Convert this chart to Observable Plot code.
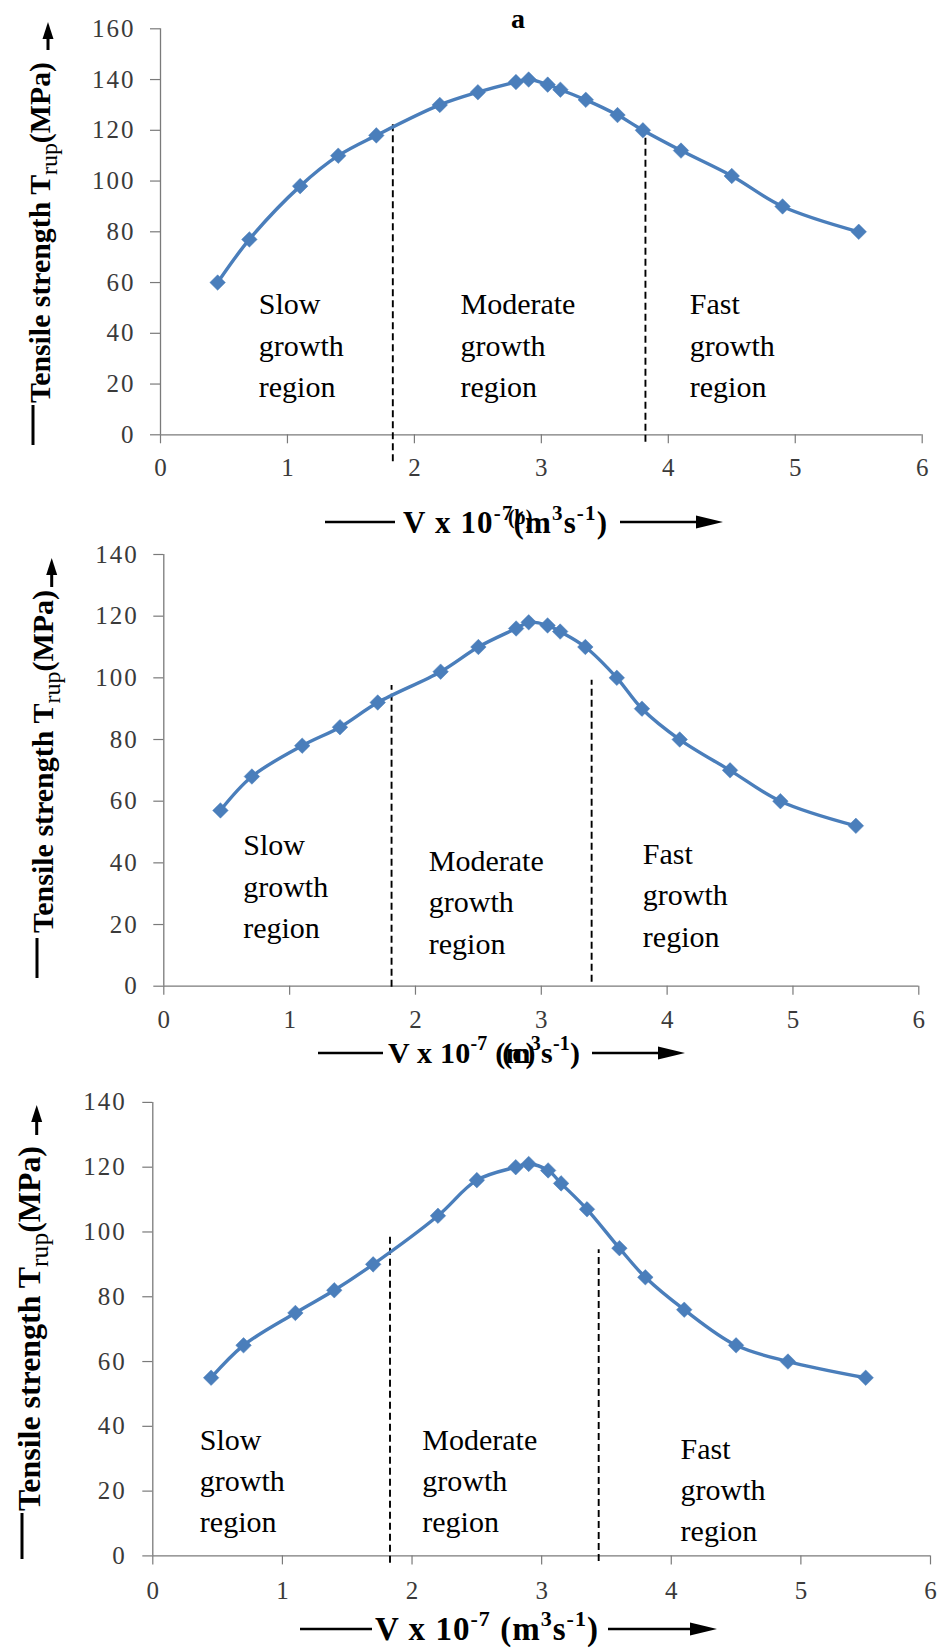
<!DOCTYPE html>
<html><head><meta charset="utf-8">
<script src="https://cdn.jsdelivr.net/npm/d3@7"></script>
<script src="https://cdn.jsdelivr.net/npm/@observablehq/plot@0.6"></script>
<style>
html,body{margin:0;padding:0;background:#fff;}
#root{position:relative;width:939px;height:1651px;overflow:hidden;font-family:"Liberation Serif","Times New Roman",serif;}
#root svg.panel{position:absolute;left:0;}
#root svg text, #root svg tspan{font-family:"Liberation Serif","Times New Roman",serif !important;}
#overlay{position:absolute;left:0;top:0;z-index:5;}
g[aria-label="y-axis tick label"]{letter-spacing:2px;}
</style></head><body><div id="root"></div>
<script>
// ---- data ----
const vValues   = [0.45, 0.7, 1.1, 1.4, 1.7, 2.2, 2.5, 2.8, 2.9, 3.05, 3.15, 3.35, 3.6, 3.8, 4.1, 4.5, 4.9, 5.5];
const strengthA = [60, 77, 98, 110, 118, 130, 135, 139, 140, 138, 136, 132, 126, 120, 112, 102, 90, 80];
const strengthB = [57, 68, 78, 84, 92, 102, 110, 116, 118, 117, 115, 110, 100, 90, 80, 70, 60, 52];
const strengthC = [55, 65, 75, 82, 90, 105, 116, 120, 121, 119, 115, 107, 95, 86, 76, 65, 60, 55];
const xTicks   = [0, 1, 2, 3, 4, 5, 6];
const yTicksA  = [0, 20, 40, 60, 80, 100, 120, 140, 160];
const yTicksBC = [0, 20, 40, 60, 80, 100, 120, 140];
const regionNames = ["Slow\ngrowth\nregion", "Moderate\ngrowth\nregion", "Fast\ngrowth\nregion"];
// region boundaries (V) and the extent of the dashed lines (MPa)
const boundaryXA = [1.83, 3.82], boundaryTopA = [122.7, 118.7], boundaryBottomA = [-10.6, -2.9];
const boundaryXB = [1.81, 3.40], boundaryTopB = [97.5, 99.2],  boundaryBottomB = [-0.3, 1.3];
const boundaryXC = [1.83, 3.44], boundaryTopC = [99, 94.5],    boundaryBottomC = [-2.3, -1.7];
// region label anchors (V, MPa of last line baseline)
const labelXA = [0.774, 2.363, 4.169], labelYA = [14.8, 14.8, 14.8];
const labelXB = [0.631, 2.106, 3.807], labelYB = [15.5, 10.6, 12.8];
const labelXC = [0.363, 2.079, 4.072], labelYC = [7.3, 7.3, 4.5];
const panelLetters = ["a", "(b)", "(c)"];

const serif = '"Liberation Serif","Times New Roman",serif';
const blue = "#4A7EBB";
const axisColor = "#7a7a7a";
const tickText = "#3a3a3a";
const root = document.getElementById("root");

function panel(c) {
  const rows = vValues.map((v, i) => ({v, s: c.values[i]}));
  const bounds = c.bx.map((x, i) => ({x, y1: c.bb[i], y2: c.bt[i]}));
  const labels = regionNames.map((t, i) => ({t, x: c.lx[i], y: c.ly[i]}));
  const svg = Plot.plot({
    width: 939,
    height: c.height,
    marginTop: c.yTop - c.top,
    marginBottom: c.top + c.height - c.yZero,
    marginLeft: c.xZero,
    marginRight: 939 - c.xSix,
    style: {background: "transparent", fontFamily: serif, overflow: "visible"},
    x: {domain: [0, 6]},
    y: {domain: [0, c.yMax]},
    marks: [
      Plot.axisX({ticks: xTicks, tickFormat: d => String(d), tickSize: 9, tickPadding: c.xPad, fontSize: 25, fontFamily: serif, label: null, stroke: axisColor, fill: tickText, strokeWidth: 1.2}),
      Plot.axisY({ticks: c.yTicks, tickFormat: d => String(d), tickSize: 10, tickPadding: c.yPad, fontSize: 25, fontFamily: serif, label: null, stroke: axisColor, fill: tickText, strokeWidth: 1.2}),
      Plot.ruleY([0], {stroke: axisColor, strokeWidth: 1.3}),
      Plot.ruleX([0], {stroke: axisColor, strokeWidth: 1.3}),
      Plot.ruleX(bounds, {x: "x", y1: "y1", y2: "y2", stroke: "#000", strokeWidth: 1.9, strokeDasharray: "7,4"}),
      Plot.text(labels, {x: "x", y: "y", text: "t", lineAnchor: "bottom", textAnchor: "start", fontSize: 30, fontFamily: serif, lineHeight: c.lh, fill: "#000"}),
      Plot.line(rows, {x: "v", y: "s", curve: "catmull-rom", stroke: blue, strokeWidth: 3.4}),
      Plot.dot(rows, {x: "v", y: "s", symbol: "diamond2", r: 7, fill: blue, stroke: blue, strokeWidth: 0.5})
    ]
  });
  svg.classList.add("panel");
  svg.style.top = c.top + "px";
  root.appendChild(svg);
}

panel({values: strengthA, yMax: 160, yTicks: yTicksA, top: 0, height: 490, yTop: 28.3, yZero: 434.3, xZero: 160, xSix: 921.7,
  bx: boundaryXA, bt: boundaryTopA, bb: boundaryBottomA, lx: labelXA, ly: labelYA, lh: 1.39, xPad: 14, yPad: 15});
panel({values: strengthB, yMax: 140, yTicks: yTicksBC, top: 540, height: 510, yTop: 554, yZero: 985.7, xZero: 163.3, xSix: 918.3,
  bx: boundaryXB, bt: boundaryTopB, bb: boundaryBottomB, lx: labelXB, ly: labelYB, lh: 1.383, xPad: 15, yPad: 15});
panel({values: strengthC, yMax: 140, yTicks: yTicksBC, top: 1080, height: 540, yTop: 1101.9, yZero: 1555.4, xZero: 152.3, xSix: 930,
  bx: boundaryXC, bt: boundaryTopC, bb: boundaryBottomC, lx: labelXC, ly: labelYC, lh: 1.367, xPad: 16, yPad: 16});

// ---- overlay: axis titles and panel letters ----
const ov = d3.select(root).append("svg").attr("id", "overlay").attr("width", 939).attr("height", 1651)
  .style("font-family", serif);

function yTitle(bx, y0, y1, dashX, dashTop, dashBottom, ax, aFrom, aTo) {
  const span = y0 - y1;
  const fs = span / 11.55;
  const g = ov.append("g").attr("transform", `translate(${bx},${y0}) rotate(-90)`);
  const t = g.append("text").attr("x", 0).attr("y", 0).attr("font-weight", "bold").attr("font-size", fs)
    .attr("fill", "#000").attr("textLength", span).attr("lengthAdjust", "spacingAndGlyphs");
  t.append("tspan").text("Tensile strength T");
  t.append("tspan").attr("font-weight", "normal").attr("font-size", fs * 0.8).attr("dy", fs * 0.25).text("rup");
  t.append("tspan").attr("dy", -fs * 0.25).text("(MPa)");
  ov.append("line").attr("x1", dashX).attr("x2", dashX).attr("y1", dashTop).attr("y2", dashBottom)
    .attr("stroke", "#000").attr("stroke-width", 3);
  ov.append("line").attr("x1", ax).attr("x2", ax).attr("y1", aFrom).attr("y2", aTo + 12)
    .attr("stroke", "#000").attr("stroke-width", 3);
  ov.append("path").attr("d", `M${ax},${aTo} L${ax - 5.5},${aTo + 17} L${ax + 5.5},${aTo + 17} Z`).attr("fill", "#000");
}

function boldText(x, y, fs) {
  return ov.append("text").attr("x", x).attr("y", y).attr("font-weight", "bold").attr("font-size", fs).attr("fill", "#000");
}

// p: {x0, x1, base, fs, space, dash0, dash1, dashY, arr0, arr1, ov}
function xTitle(p) {
  const sfs = Math.round(p.fs * 0.68), up = Math.round(p.fs * 0.42);
  const t = boldText(p.x0, p.base, p.fs).attr("textLength", p.x1 - p.x0).attr("lengthAdjust", "spacing");
  t.append("tspan").text("V x 10");
  t.append("tspan").attr("font-size", sfs).attr("dy", -up).text("-7");
  t.append("tspan").attr("dy", up).text(p.space ? "\u00a0(m" : "(m");
  t.append("tspan").attr("font-size", sfs).attr("dy", -up).text("3");
  t.append("tspan").attr("dy", up).text("s");
  t.append("tspan").attr("font-size", sfs).attr("dy", -up).text("-1");
  t.append("tspan").attr("dy", up).text(")");
  if (p.ov) {
    // place the overlapping panel letter relative to the laid-out characters
    const node = t.node();
    const full = node.textContent;
    let ref;
    try { ref = node.getStartPositionOfChar(full.indexOf(p.ov.after)).x; } catch (e) { ref = p.x0 + 90; }
    boldText(ref + p.ov.dx, p.base + p.ov.dy, p.ov.fs).text(p.ov.text);
  }
  ov.append("line").attr("x1", p.dash0).attr("x2", p.dash1).attr("y1", p.dashY).attr("y2", p.dashY)
    .attr("stroke", "#000").attr("stroke-width", 2.7);
  ov.append("line").attr("x1", p.arr0).attr("x2", p.arr1 - 22).attr("y1", p.dashY).attr("y2", p.dashY)
    .attr("stroke", "#000").attr("stroke-width", 2.7);
  ov.append("path").attr("d", `M${p.arr1},${p.dashY} L${p.arr1 - 27},${p.dashY - 6.5} L${p.arr1 - 27},${p.dashY + 6.5} Z`).attr("fill", "#000");
}

yTitle(50, 403, 62, 33, 405, 445, 48, 50, 22);
yTitle(53, 933, 590, 37, 938, 978, 51.7, 587, 558);
yTitle(40, 1511, 1146, 22, 1513, 1559, 36.7, 1135, 1105);

xTitle({x0: 403, x1: 607, base: 533, fs: 31, space: false, dash0: 325, dash1: 395, dashY: 522, arr0: 620, arr1: 723,
  ov: {after: "7", dx: 6, dy: -9, fs: 20, text: panelLetters[1]}});
xTitle({x0: 388, x1: 580, base: 1063, fs: 30, space: true, dash0: 318, dash1: 383, dashY: 1053, arr0: 592, arr1: 685,
  ov: {after: "(", dx: 7, dy: 0, fs: 30, text: panelLetters[2]}});
xTitle({x0: 375, x1: 598, base: 1640, fs: 33, space: true, dash0: 300, dash1: 372, dashY: 1629, arr0: 608, arr1: 717});

boldText(518, 28, 28).attr("text-anchor", "middle").text(panelLetters[0]);
</script></body></html>
